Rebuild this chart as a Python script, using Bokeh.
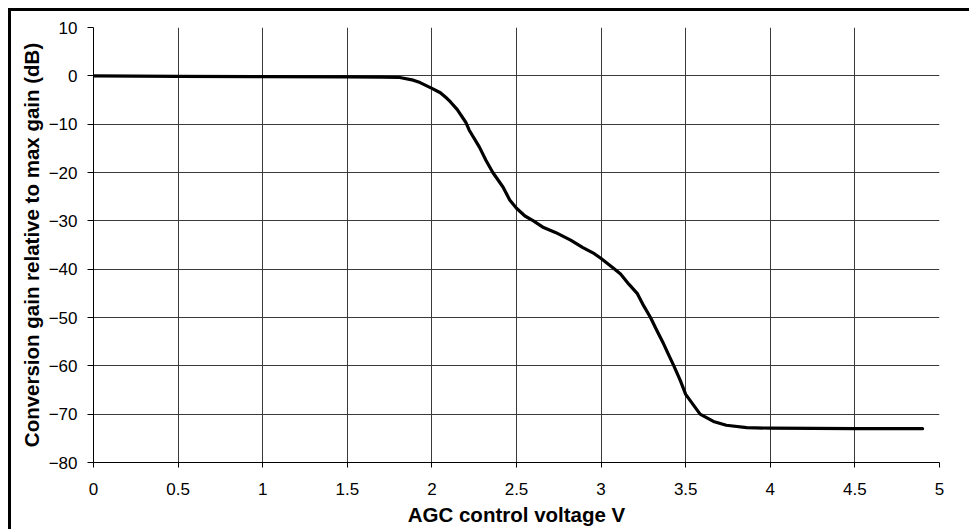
from bokeh.plotting import figure
from bokeh.models import FixedTicker, Range1d, Div
from bokeh.layouts import column
from bokeh.embed import file_html
from bokeh.resources import INLINE

# AGC control voltage (V) and conversion gain relative to max gain (dB)
voltage = [0.0, 0.5, 1.0, 1.5, 1.7, 1.81, 1.89, 1.93, 2.0, 2.05, 2.09, 2.11, 2.15, 2.20,
           2.22, 2.28, 2.32, 2.36, 2.42, 2.46, 2.5, 2.55, 2.6, 2.66, 2.73, 2.82, 2.89,
           2.96, 3.0, 3.066, 3.115, 3.164, 3.213, 3.252, 3.292, 3.331, 3.37, 3.40, 3.43,
           3.469, 3.5, 3.585, 3.664, 3.74, 3.86, 4.0, 4.5, 4.9]
gain_db = [0.0, -0.1, -0.15, -0.2, -0.25, -0.35, -0.9, -1.4, -2.6, -3.5, -4.7, -5.4, -7.0, -9.6,
           -11.2, -14.7, -17.5, -20.0, -23.0, -25.7, -27.4, -29.0, -30.0, -31.4, -32.4, -34.0, -35.5,
           -36.8, -37.8, -39.6, -41.0, -43.1, -45.0, -47.6, -50.0, -52.8, -55.5, -57.8, -60.0,
           -63.1, -65.9, -70.0, -71.5, -72.3, -72.8, -72.9, -73.0, -73.0]

x_ticks = [0, 0.5, 1, 1.5, 2, 2.5, 3, 3.5, 4, 4.5, 5]
x_tick_labels = ["0", "0.5", "1", "1.5", "2", "2.5", "3", "3.5", "4", "4.5", "5"]
y_ticks = [-80, -70, -60, -50, -40, -30, -20, -10, 0, 10]

p = figure(width=958, height=518, output_backend="svg", toolbar_location=None,
           x_range=Range1d(0, 5), y_range=Range1d(-80, 10),
           min_border_left=82, min_border_right=30, min_border_top=16, min_border_bottom=67)
p.styles = {"border-left": "3px solid black"}
p.outline_line_color = None
p.background_fill_color = "white"
p.border_fill_color = "white"

p.line(voltage, gain_db, line_color="black", line_width=3.2, line_join="round", line_cap="round")

for ax in (p.xaxis[0], p.yaxis[0]):
    ax.axis_line_color = "black"
    ax.axis_line_width = 1
    ax.major_tick_line_color = "black"
    ax.minor_tick_line_color = None
    ax.major_tick_in = 0
    ax.major_label_text_font = "Liberation Sans"
    ax.major_label_text_font_size = "17px"
    ax.major_label_text_color = "black"
    ax.axis_label_text_font = "Liberation Sans"
    ax.axis_label_text_font_size = "20.5px"
    ax.axis_label_text_font_style = "bold"
    ax.axis_label_text_color = "black"

p.xaxis[0].ticker = FixedTicker(ticks=x_ticks)
p.xaxis[0].major_label_overrides = {t: l for t, l in zip(x_ticks, x_tick_labels)}
p.xaxis[0].major_tick_out = 5
p.xaxis[0].major_label_standoff = 15
p.xaxis[0].axis_label = "AGC control voltage V"
p.xaxis[0].axis_label_standoff = 5

p.yaxis[0].ticker = FixedTicker(ticks=y_ticks)
p.yaxis[0].major_tick_out = 6
p.yaxis[0].major_label_standoff = 10
p.yaxis[0].axis_label = "Conversion gain relative to max gain (dB)"
p.yaxis[0].axis_label_standoff = 3

for g in (p.xgrid[0], p.ygrid[0]):
    g.grid_line_color = "#3a3a3a"
    g.grid_line_width = 1

top_bar = Div(text="", width=961, height=3, margin=0,
              styles={"background-color": "black", "position": "relative", "z-index": "10"})
layout = column(top_bar, p, spacing=0,
                styles={"margin-left": "8px", "margin-top": "8px", "position": "relative"})

open("out.html", "w").write(file_html(layout, INLINE))
